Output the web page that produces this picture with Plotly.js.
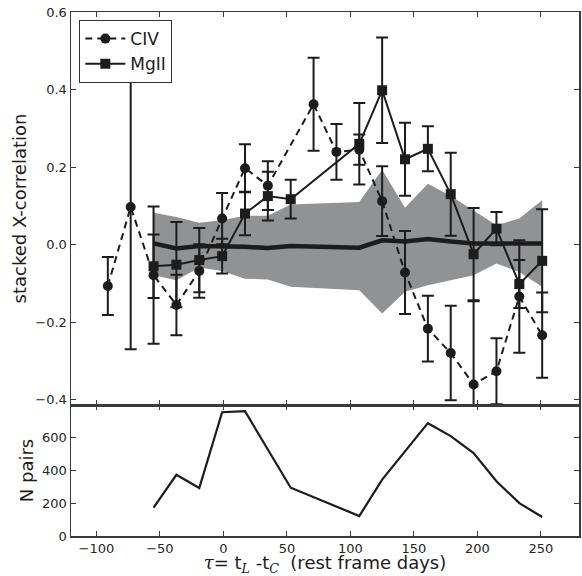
<!DOCTYPE html>
<html>
<head>
<meta charset="utf-8">
<script src="https://cdn.plot.ly/plotly-3.0.1.min.js"></script>
<style>html,body{margin:0;padding:0;background:#fff;}#chart{width:582px;height:576px;}</style>
</head>
<body>
<div id="chart"></div>
<script>
// CIV stacked cross-correlation
const civX = [-91,-73,-55,-37,-19,-1,17,35,71,89,107,125,143,161,179,197,215,233,251];
const civY = [-0.107,0.097,-0.079,-0.156,-0.068,0.067,0.197,0.152,0.362,0.239,0.245,0.112,-0.072,-0.217,-0.280,-0.361,-0.327,-0.134,-0.234];
const civErr = [0.075,0.367,0.177,0.078,0.069,0.066,0.062,0.063,0.120,0.072,0.039,0.090,0.107,0.085,0.122,0.215,0.085,0.145,0.110];

// MgII stacked cross-correlation
const mgX = [-55,-37,-19,-1,17,35,53,107,125,143,161,179,197,215,233,251];
const mgY = [-0.056,-0.052,-0.040,-0.030,0.080,0.125,0.117,0.260,0.398,0.220,0.247,0.130,-0.025,0.041,-0.102,-0.042];
const mgErr = [0.082,0.110,0.083,0.045,0.056,0.063,0.050,0.105,0.136,0.094,0.058,0.107,0.119,0.043,0.062,0.133];

// null (randomised) band and its mean
const bandX = [-55,-37,-19,-1,17,35,53,107,125,143,161,179,197,215,233,251];
const bandUpper = [0.082,0.071,0.056,0.063,0.074,0.074,0.103,0.110,0.193,0.095,0.157,0.125,0.088,0.050,0.067,0.114];
const bandLower = [-0.079,-0.092,-0.059,-0.068,-0.088,-0.090,-0.109,-0.118,-0.178,-0.122,-0.105,-0.092,-0.079,-0.049,-0.071,-0.109];
const bandMean = [0.003,-0.010,-0.004,-0.004,-0.006,-0.009,-0.004,-0.008,0.011,0.008,0.014,0.008,0.003,0.003,0.003,0.003];

// number of pairs
const nX = [-55,-37,-19,-1,17,53,107,125,161,179,197,215,233,251];
const nY = [173,374,293,756,762,295,122,344,689,610,506,334,201,116];

const ink = '#1c1c1c';
const font = 'DejaVu Sans, sans-serif';

const traces = [
  {x: bandX, y: bandUpper, mode: 'lines', line: {width: 0, color: '#909294'}, showlegend: false, hoverinfo: 'skip', xaxis: 'x', yaxis: 'y'},
  {x: bandX, y: bandLower, mode: 'lines', line: {width: 0, color: '#909294'}, fill: 'tonexty', fillcolor: '#909294', showlegend: false, hoverinfo: 'skip', xaxis: 'x', yaxis: 'y'},
  {x: bandX, y: bandMean, mode: 'lines', line: {width: 4.5, color: ink}, showlegend: false, xaxis: 'x', yaxis: 'y'},
  {x: civX, y: civY, name: 'CIV', mode: 'lines+markers',
   line: {color: ink, width: 2, dash: '7px,5px'},
   marker: {symbol: 'circle', size: 10, color: ink},
   error_y: {type: 'data', array: civErr, visible: true, color: ink, thickness: 2, width: 6},
   xaxis: 'x', yaxis: 'y'},
  {x: mgX, y: mgY, name: 'MgII', mode: 'lines+markers',
   line: {color: ink, width: 2},
   marker: {symbol: 'square', size: 10, color: ink},
   error_y: {type: 'data', array: mgErr, visible: true, color: ink, thickness: 2, width: 6},
   xaxis: 'x', yaxis: 'y'},
  {x: nX, y: nY, mode: 'lines', line: {color: ink, width: 2.2}, showlegend: false, xaxis: 'x2', yaxis: 'y2'}
];

const axisCommon = {
  showgrid: false, zeroline: false, showline: true, linecolor: '#3a3a3a', linewidth: 1.5,
  ticks: 'inside', ticklen: 5, tickwidth: 1, tickcolor: '#3a3a3a', mirror: 'ticks',
  tickfont: {family: font, size: 13, color: '#262626'}
};

const layout = {
  width: 582, height: 576,
  margin: {l: 71, r: 3, t: 12, b: 40},
  paper_bgcolor: '#fff', plot_bgcolor: '#fff',
  font: {family: font, color: '#262626'},
  showlegend: true,
  legend: {x: 0.016, y: 0.985, xanchor: 'left', yanchor: 'top', bgcolor: '#fff', traceorder: 'normal',
           bordercolor: '#333', borderwidth: 1.2, font: {family: font, size: 17, color: '#1c1c1c'},
           tracegroupgap: 2, itemwidth: 40},
  xaxis: Object.assign({}, axisCommon, {domain: [0, 1], anchor: 'y', range: [-120, 280],
           tickvals: [-100, -50, 0, 50, 100, 150, 200, 250], showticklabels: false}),
  yaxis: Object.assign({}, axisCommon, {domain: [0.25, 1], anchor: 'x', range: [-0.414, 0.6],
           tickvals: [-0.4, -0.2, 0, 0.2, 0.4, 0.6], tickformat: '.1f',
           title: {text: 'stacked X-correlation', font: {family: font, size: 18, color: '#1c1c1c'}, standoff: 4}}),
  xaxis2: Object.assign({}, axisCommon, {domain: [0, 1], anchor: 'y2', range: [-120, 280],
           tickvals: [-100, -50, 0, 50, 100, 150, 200, 250],
           title: {text: '<span style="font-family:DejaVu Serif"><i>τ</i></span>= t<sub><span style="font-family:DejaVu Serif"><i>L</i></span></sub> -t<sub><span style="font-family:DejaVu Serif"><i>C</i></span></sub>  (rest frame days)',
                   font: {family: font, size: 18, color: '#1c1c1c'}, standoff: 5}}),
  yaxis2: Object.assign({}, axisCommon, {domain: [0, 0.25], anchor: 'x2', range: [0, 800],
           tickvals: [0, 200, 400, 600],
           title: {text: 'N pairs', font: {family: font, size: 18, color: '#1c1c1c'}, standoff: 4}})
};

Plotly.newPlot('chart', traces, layout, {displayModeBar: false, staticPlot: true});
</script>
</body>
</html>
